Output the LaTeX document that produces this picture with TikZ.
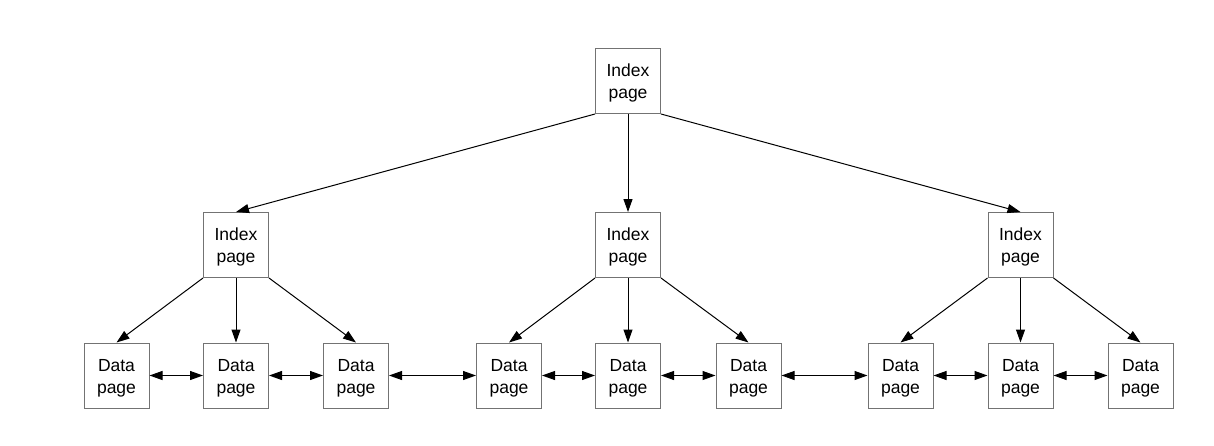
\documentclass[tikz,border=0pt]{standalone}
\usepackage{fontspec}
\setmainfont{Liberation Sans}
\usetikzlibrary{arrows.meta}
\begin{document}
\begin{tikzpicture}[x=1pt,y=-1pt,
  pagebox/.style={draw=black!55,line width=1pt,minimum width=65pt,minimum height=65pt,inner sep=0pt,align=center,
    text height=39pt,text depth=4pt,
    font=\fontsize{17.5}{22}\selectfont},
  link/.style={line width=1pt,-{Triangle[length=13pt,width=9pt]}},
  dlink/.style={line width=1pt,{Triangle[length=13pt,width=9pt]}-{Triangle[length=13pt,width=9pt]}}]
\useasboundingbox (0,0) rectangle (1214,445);
\node[pagebox] (top) at (628,81) {Index\\page};
\node[pagebox] (m1) at (236,245) {Index\\page};
\node[pagebox] (m2) at (628,245) {Index\\page};
\node[pagebox] (m3) at (1020.5,245) {Index\\page};
\foreach \n/\x in {d1/116.5,d2/236,d3/356,d4/509,d5/628,d6/748.5,d7/900.5,d8/1020.5,d9/1140.5}
  \node[pagebox] (\n) at (\x,375.5) {Data\\page};
\draw[link] (top.south west) -- (m1.north);
\draw[link] (top.south) -- (m2.north);
\draw[link] (top.south east) -- (m3.north);
\draw[link] (m1.south west) -- (d1.north);
\draw[link] (m1.south) -- (d2.north);
\draw[link] (m1.south east) -- (d3.north);
\draw[link] (m2.south west) -- (d4.north);
\draw[link] (m2.south) -- (d5.north);
\draw[link] (m2.south east) -- (d6.north);
\draw[link] (m3.south west) -- (d7.north);
\draw[link] (m3.south) -- (d8.north);
\draw[link] (m3.south east) -- (d9.north);
\draw[dlink] (d1) -- (d2);
\draw[dlink] (d2) -- (d3);
\draw[dlink] (d3) -- (d4);
\draw[dlink] (d4) -- (d5);
\draw[dlink] (d5) -- (d6);
\draw[dlink] (d6) -- (d7);
\draw[dlink] (d7) -- (d8);
\draw[dlink] (d8) -- (d9);
\end{tikzpicture}
\end{document}
